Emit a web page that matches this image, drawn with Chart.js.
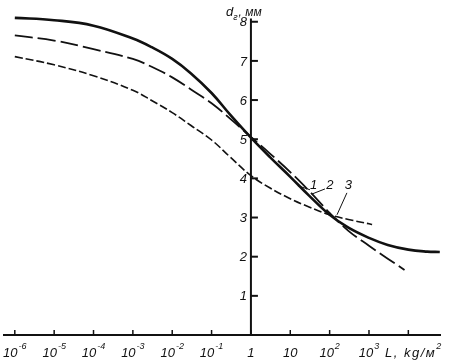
<!DOCTYPE html>
<html>
<head>
<meta charset="utf-8">
<script src="https://cdn.jsdelivr.net/npm/chart.js@4"></script>
<style>
  html, body { margin: 0; padding: 0; background: #fff; }
  #wrap { width: 449px; height: 362px; position: relative; }
</style>
</head>
<body>
<div id="wrap"><canvas id="dropChart"></canvas></div>
<script>
// ===== DATA =====
// x axis: L, kg/m^2 (log scale), ticks at decades
const xTickExps = [-6, -5, -4, -3, -2, -1, 0, 1, 2, 3, 4];
const yTicks = [1, 2, 3, 4, 5, 6, 7, 8];

// curve 1 (solid)
const load1 = [1e-6, 1e-5, 1e-4, 1e-3, 3e-3, 1e-2, 3e-2, 0.1, 0.3, 1, 3, 10, 30, 100, 300, 1000, 3000, 10000, 30000, 63000];
const drop1 = [8.10, 8.04, 7.90, 7.57, 7.35, 7.05, 6.68, 6.18, 5.62, 5.04, 4.55, 4.04, 3.56, 3.07, 2.74, 2.48, 2.30, 2.18, 2.13, 2.12];

// curve 2 (long dash)
const load2 = [1e-6, 1e-5, 1e-4, 1e-3, 3e-3, 1e-2, 3e-2, 0.1, 0.3, 1, 3, 10, 30, 100, 300, 1000, 3000, 8000];
const drop2 = [7.65, 7.52, 7.30, 7.05, 6.85, 6.58, 6.27, 5.92, 5.52, 5.06, 4.64, 4.16, 3.68, 3.12, 2.66, 2.28, 1.95, 1.66];

// curve 3 (short dash)
const load3 = [1e-6, 1e-5, 1e-4, 1e-3, 3e-3, 1e-2, 3e-2, 0.1, 0.3, 1, 3, 10, 30, 100, 300, 1000, 1200];
const drop3 = [7.11, 6.90, 6.62, 6.25, 5.99, 5.68, 5.35, 4.98, 4.54, 4.07, 3.76, 3.48, 3.27, 3.07, 2.95, 2.84, 2.82];

// curve numbers with leader lines (data coords)
const curveLabels = ['1', '2', '3'];
const labelAt = [[39, 3.83], [102, 3.83], [300, 3.81]];
const leaderFrom = [[31.6, 3.71], [76, 3.73], [275, 3.63]];
const leaderTo = [[15.6, 3.81], [35.5, 3.60], [154, 3.07]];

const toPoints = (xs, ys) => xs.map((x, i) => ({ x: x, y: ys[i] }));

const INK = '#111';
const FONT = '"Liberation Sans", Arial, sans-serif';

// ===== AXES, TICKS, LABELS =====
const axesPlugin = {
    id: 'crossAxes',
    afterDraw(chart) {
        const ctx = chart.ctx;
        const xs = chart.scales.x;
        const ys = chart.scales.y;
        const area = chart.chartArea;
        const y0 = ys.getPixelForValue(0);
        const x1 = xs.getPixelForValue(1);

        ctx.save();
        ctx.strokeStyle = INK;
        ctx.fillStyle = INK;
        ctx.lineCap = 'butt';

        // x axis line
        ctx.lineWidth = 2;
        ctx.beginPath();
        ctx.moveTo(area.left, y0);
        ctx.lineTo(area.right, y0);
        ctx.stroke();

        // y axis line at L = 1
        ctx.beginPath();
        ctx.moveTo(x1, y0);
        ctx.lineTo(x1, ys.getPixelForValue(8.08));
        ctx.stroke();

        // x ticks (inward) + labels
        ctx.lineWidth = 1.5;
        xTickExps.forEach(e => {
            const px = xs.getPixelForValue(Math.pow(10, e));
            ctx.beginPath();
            ctx.moveTo(px, y0);
            ctx.lineTo(px, y0 - 5);
            ctx.stroke();

            if (e === 4) return;
            ctx.textBaseline = 'alphabetic';
            ctx.textAlign = 'left';
            ctx.font = 'italic 13px ' + FONT;
            if (e === 0 || e === 1) {
                const t = e === 0 ? '1' : '10';
                const w = ctx.measureText(t).width;
                ctx.fillText(t, px - w / 2, 357);
            } else {
                const base = '10';
                const wb = ctx.measureText(base).width;
                ctx.font = 'italic 9px ' + FONT;
                const sup = e < 0 ? '-' + Math.abs(e) : String(e);
                const ws = ctx.measureText(sup).width;
                const start = px - (wb + ws + 1) / 2;
                ctx.font = 'italic 13px ' + FONT;
                ctx.fillText(base, start, 357);
                ctx.font = 'italic 9px ' + FONT;
                ctx.fillText(sup, start + wb + 1, 349);
            }
        });

        // x axis title
        ctx.font = 'italic 13px ' + FONT;
        if ('letterSpacing' in ctx) ctx.letterSpacing = '1.5px';
        const xTitle = 'L, kg/м';
        const tx = xs.getPixelForValue(Math.pow(10, 3)) + 16;
        ctx.fillText(xTitle, tx, 357);
        const wt = ctx.measureText(xTitle).width;
        ctx.font = 'italic 9px ' + FONT;
        ctx.fillText('2', tx + wt, 349);
        if ('letterSpacing' in ctx) ctx.letterSpacing = '0px';

        // y ticks (to the right) + labels (to the left)
        ctx.lineWidth = 2;
        ctx.font = 'italic 13px ' + FONT;
        ctx.textAlign = 'right';
        ctx.textBaseline = 'middle';
        yTicks.forEach(v => {
            const py = ys.getPixelForValue(v);
            ctx.beginPath();
            ctx.moveTo(x1, py);
            ctx.lineTo(x1 + 7, py);
            ctx.stroke();
            ctx.fillText(String(v), x1 - 4, py + 1);
        });

        // y axis title: d_г, мм
        ctx.textAlign = 'left';
        ctx.textBaseline = 'alphabetic';
        ctx.font = 'italic 13px ' + FONT;
        const lx = x1 - 25;
        ctx.fillText('d', lx, 16);
        const wd = ctx.measureText('d').width;
        ctx.font = 'italic 9px ' + FONT;
        ctx.fillText('г', lx + wd, 20);
        const wg = ctx.measureText('г').width;
        ctx.font = 'italic 12px ' + FONT;
        ctx.fillText(', мм', lx + wd + wg + 1, 16);

        // curve numbers and leaders
        ctx.lineWidth = 1;
        ctx.font = 'italic 13px ' + FONT;
        ctx.textAlign = 'center';
        ctx.textBaseline = 'middle';
        curveLabels.forEach((t, i) => {
            ctx.fillText(t, xs.getPixelForValue(labelAt[i][0]), ys.getPixelForValue(labelAt[i][1]));
            ctx.beginPath();
            ctx.moveTo(xs.getPixelForValue(leaderFrom[i][0]), ys.getPixelForValue(leaderFrom[i][1]));
            ctx.lineTo(xs.getPixelForValue(leaderTo[i][0]), ys.getPixelForValue(leaderTo[i][1]));
            ctx.stroke();
        });

        ctx.restore();
    }
};

const lineStyle = {
    borderColor: INK,
    pointRadius: 0,
    fill: false,
    tension: 0.4,
    borderCapStyle: 'butt'
};

new Chart(document.getElementById('dropChart'), {
    type: 'line',
    data: {
        datasets: [
            Object.assign({ label: '1', data: toPoints(load1, drop1), borderWidth: 2.6 }, lineStyle),
            Object.assign({ label: '2', data: toPoints(load2, drop2), borderWidth: 1.8, borderDash: [18, 5] }, lineStyle),
            Object.assign({ label: '3', data: toPoints(load3, drop3), borderWidth: 1.6, borderDash: [8, 3] }, lineStyle)
        ]
    },
    options: {
        responsive: true,
        maintainAspectRatio: false,
        animation: false,
        layout: { padding: { left: 3, right: 8, top: 10, bottom: 27 } },
        plugins: {
            legend: { display: false },
            tooltip: { enabled: false }
        },
        scales: {
            x: {
                type: 'logarithmic',
                display: false,
                min: Math.pow(10, -6.3),
                max: Math.pow(10, 4.83)
            },
            y: {
                type: 'linear',
                display: false,
                min: 0,
                max: 8.3
            }
        }
    },
    plugins: [axesPlugin]
});
</script>
</body>
</html>
